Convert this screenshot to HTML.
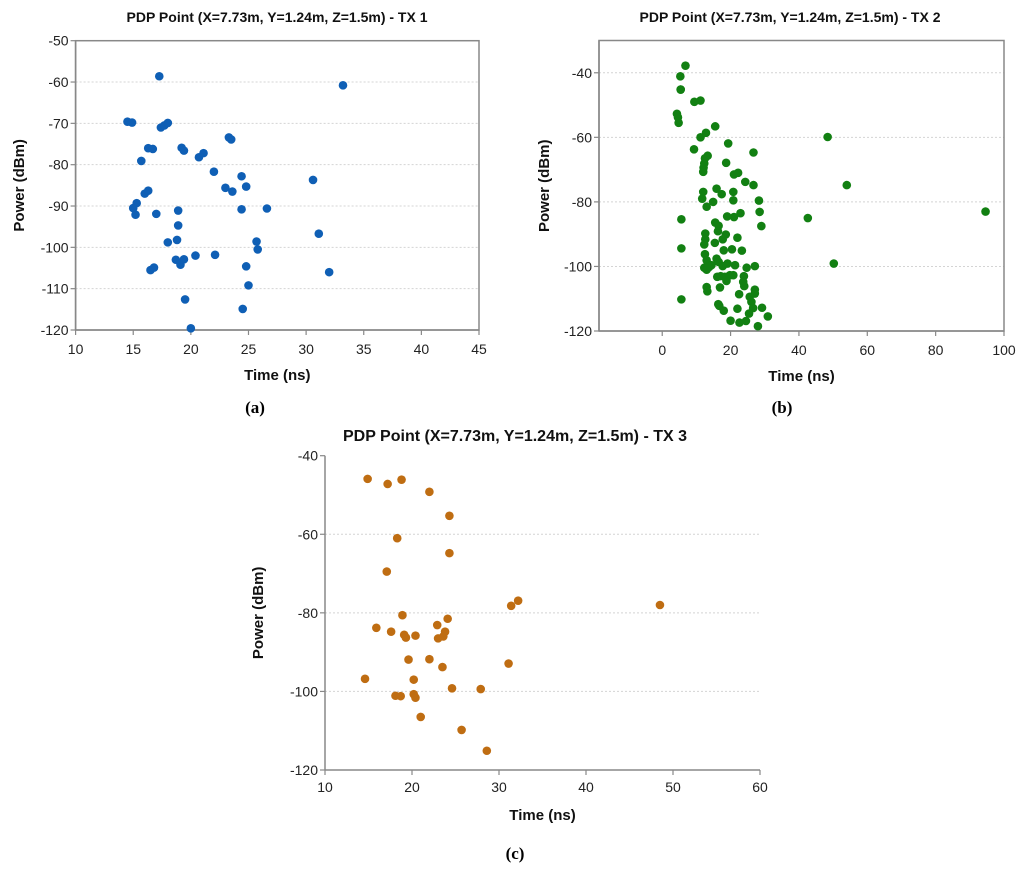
<!DOCTYPE html>
<html><head><meta charset="utf-8"><style>
html,body{margin:0;padding:0;background:#fff;}
svg{display:block;font-family:"Liberation Sans",Arial,sans-serif;}
.cap{font-family:"Liberation Serif",serif;font-weight:bold;font-size:17px;}
</style></head><body>
<svg id="fig" width="1024" height="869" viewBox="0 0 1024 869"></svg>
<script>
// ---- Chart (a) TX1 data ----
const txOneTime=[17.26,33.2,14.5,14.9,17.4,17.7,18.0,23.3,23.5,16.3,16.7,19.2,19.4,20.7,21.1,15.7,22.0,24.4,30.6,23.0,23.6,24.8,16.0,16.3,15.3,15.0,15.2,17.0,18.9,24.4,26.6,18.9,18.0,18.8,31.1,25.7,25.8,18.7,19.1,19.4,20.4,22.1,16.5,16.8,24.8,32.0,25.0,19.5,24.5,20.0];
const txOnePower=[-58.6,-60.8,-69.6,-69.8,-71.0,-70.5,-69.9,-73.4,-73.9,-76.0,-76.2,-75.9,-76.6,-78.2,-77.2,-79.1,-81.7,-82.8,-83.7,-85.6,-86.5,-85.3,-87.0,-86.3,-89.3,-90.5,-92.1,-91.9,-91.1,-90.8,-90.6,-94.7,-98.8,-98.2,-96.7,-98.6,-100.5,-103.0,-104.2,-102.9,-102.0,-101.8,-105.5,-104.9,-104.6,-106.0,-109.2,-112.6,-114.9,-119.6];
const txOneXTicks=[10,15,20,25,30,35,40,45];
const txOneYTicks=[-50,-60,-70,-80,-90,-100,-110,-120];
// ---- Chart (b) TX2 data ----
const txTwoTime=[6.8,5.3,5.4,5.4,9.4,11.2,4.3,4.6,4.8,15.5,12.8,11.2,19.3,9.3,26.7,13.3,12.5,12.3,12.1,12.0,18.7,21.0,22.2,24.3,26.7,15.9,17.4,12.0,11.7,13.0,14.9,20.8,20.8,28.3,28.5,29.0,22.9,21.0,19.0,42.6,5.6,5.6,5.6,
15.5,16.5,16.3,18.6,17.7,15.4,12.6,12.6,12.3,22.0,20.4,23.3,18.0,12.5,13.0,15.9,16.5,14.4,12.3,13.0,13.7,17.7,19.1,21.3,24.7,27.1,16.1,17.1,18.3,18.8,19.8,20.8,23.9,23.7,24.0,13.0,13.2,16.9,22.5,25.6,27.1,27.1,26.1,26.6,29.2,25.4,30.9,22.0,16.4,16.7,18.0,20.0,22.6,24.5,28.0,48.4,54.0,50.2,94.6];
const txTwoPower=[-37.8,-41.1,-45.2,-45.2,-49.0,-48.6,-52.7,-53.8,-55.5,-56.6,-58.6,-60.0,-61.9,-63.7,-64.7,-65.7,-66.5,-68.1,-69.4,-70.7,-67.9,-71.5,-71.0,-73.8,-74.8,-75.9,-77.6,-76.9,-79.0,-81.5,-80.0,-76.9,-79.5,-79.6,-83.1,-87.5,-83.5,-84.7,-84.5,-85.0,-85.4,-94.4,-110.2,
-86.4,-87.4,-89.1,-90.1,-91.6,-92.7,-89.8,-91.6,-93.2,-91.1,-94.7,-95.1,-95.0,-96.2,-98.1,-97.6,-98.6,-99.6,-100.4,-101.0,-100.2,-99.9,-99.1,-99.6,-100.4,-99.9,-103.2,-103.0,-103.2,-104.5,-102.7,-102.7,-103.0,-104.8,-106.1,-106.4,-107.7,-106.5,-108.6,-109.4,-108.4,-107.2,-111.0,-112.9,-112.8,-114.6,-115.5,-113.1,-111.7,-112.2,-113.7,-116.8,-117.4,-116.9,-118.5,-59.9,-74.8,-99.1,-83.0];
const txTwoXTicks=[0,20,40,60,80,100];
const txTwoYTicks=[-40,-60,-80,-100,-120];
// ---- Chart (c) TX3 data ----
const txThreeTime=[14.9,17.2,18.8,22.0,24.3,18.3,24.3,17.1,31.4,32.2,18.9,24.1,15.9,17.6,22.9,23.8,23.6,23.0,19.1,19.3,20.4,19.6,22.0,23.5,31.1,14.6,20.2,24.6,27.9,18.1,18.7,20.2,20.4,21.0,25.7,28.6,48.5];
const txThreePower=[-45.9,-47.2,-46.1,-49.2,-55.3,-61.0,-64.8,-69.5,-78.2,-76.9,-80.6,-81.5,-83.8,-84.8,-83.1,-84.8,-86.0,-86.5,-85.6,-86.3,-85.8,-91.9,-91.8,-93.8,-92.9,-96.8,-97.0,-99.2,-99.4,-101.1,-101.2,-100.7,-101.6,-106.5,-109.8,-115.1,-78.0];
const txThreeXTicks=[10,20,30,40,50,60];
const txThreeYTicks=[-40,-60,-80,-100,-120];

const NS='http://www.w3.org/2000/svg';
const svg=document.getElementById('fig');
function mk(tag,attrs,parent,text){const e=document.createElementNS(NS,tag);for(const k in attrs)e.setAttribute(k,attrs[k]);if(text!==undefined)e.textContent=text;(parent||svg).appendChild(e);return e;}

function chart(cfg){
  const g=mk('g',{},svg);
  
  
  const sx=v=>cfg.L+(v-cfg.xmin)/(cfg.xmax-cfg.xmin)*(cfg.R-cfg.L);
  const sy=v=>cfg.B-(v-cfg.ymin)/(cfg.ymax-cfg.ymin)*(cfg.B-cfg.T);
  cfg.yt.forEach(t=>{
    if(t===cfg.ymin||t===cfg.ymax)return;
    const l=mk('line',{x1:cfg.L,x2:cfg.R,y1:sy(t),y2:sy(t),stroke:'#d4d4d4','stroke-width':1,'stroke-dasharray':'2,2'},g);
    
    
  });
  if(cfg.box){const r=mk('rect',{x:cfg.L,y:cfg.T,width:cfg.R-cfg.L,height:cfg.B-cfg.T,fill:'none',stroke:'#888','stroke-width':1.5},g);
    
    }
  const ya=mk('line',{x1:cfg.L,x2:cfg.L,y1:cfg.T,y2:cfg.B,stroke:'#888','stroke-width':1.5},g);
  
  
  const xa=mk('line',{x1:cfg.L,x2:cfg.R,y1:cfg.B,y2:cfg.B,stroke:'#888','stroke-width':1.5},g);
  
  
  cfg.yt.forEach(t=>{
    mk('line',{x1:cfg.L-5,x2:cfg.L,y1:sy(t),y2:sy(t),stroke:'#888','stroke-width':1.2},g);
    const tx=mk('text',{x:cfg.L-7,y:sy(t)+5,'text-anchor':'end','font-size':14,fill:'#222'},g,String(t));
    
    
  });
  cfg.xt.forEach(t=>{
    mk('line',{x1:sx(t),x2:sx(t),y1:cfg.B,y2:cfg.B+5,stroke:'#888','stroke-width':1.2},g);
    const tx=mk('text',{x:sx(t),y:cfg.B+cfg.xto,'text-anchor':'middle','font-size':14,fill:'#222'},g,String(t));
    
    
  });
  const ti=mk('text',{x:cfg.tx,y:cfg.ty,'text-anchor':'middle','font-size':cfg.tfs,'font-weight':'bold',fill:'#111'},g,cfg.title);
  
  
  const xl=mk('text',{x:(cfg.L+cfg.R)/2,y:cfg.B+50,'text-anchor':'middle','font-size':15,'font-weight':'bold',fill:'#111'},g,'Time (ns)');
  
  
  const yl=mk('text',{x:0,y:0,'text-anchor':'middle','font-size':15,'font-weight':'bold',fill:'#111',transform:`translate(${cfg.ylx},${(cfg.T+cfg.B)/2}) rotate(-90)`},g,'Power (dBm)');
  
  
  cfg.xs.forEach((v,i)=>{
    const c=mk('circle',{cx:sx(v),cy:sy(cfg.ys[i]),r:4.3,fill:cfg.color},g);
    
    
  });
  const cp=mk('text',{x:cfg.cx,y:cfg.cy,'text-anchor':'middle',class:'cap'},g,cfg.cap);
  
  
}
chart({name:'chart-tx1',L:75.6,R:479,T:40.7,B:330,xmin:10,xmax:45,ymin:-120,ymax:-50,xt:txOneXTicks,yt:txOneYTicks,xs:txOneTime,ys:txOnePower,color:'#0f5fb5',box:true,title:'PDP Point (X=7.73m, Y=1.24m, Z=1.5m) - TX 1',tx:277,ty:22,tfs:14,ylx:24,cap:'(a)',cx:255,cy:413,xto:24});
chart({name:'chart-tx2',L:599,R:1004,T:40.5,B:331,xmin:-18.5,xmax:100,ymin:-120,ymax:-30,xt:txTwoXTicks,yt:txTwoYTicks,xs:txTwoTime,ys:txTwoPower,color:'#128012',box:true,title:'PDP Point (X=7.73m, Y=1.24m, Z=1.5m) - TX 2',tx:790,ty:22,tfs:14,ylx:549,cap:'(b)',cx:782,cy:413,xto:24});
chart({name:'chart-tx3',L:325,R:760,T:455.7,B:770,xmin:10,xmax:60,ymin:-120,ymax:-40,xt:txThreeXTicks,yt:txThreeYTicks,xs:txThreeTime,ys:txThreePower,color:'#bf6d12',box:false,title:'PDP Point (X=7.73m, Y=1.24m, Z=1.5m) - TX 3',tx:515,ty:441,tfs:16,ylx:263,cap:'(c)',cx:515,cy:859,xto:22});
</script>
</body></html>
